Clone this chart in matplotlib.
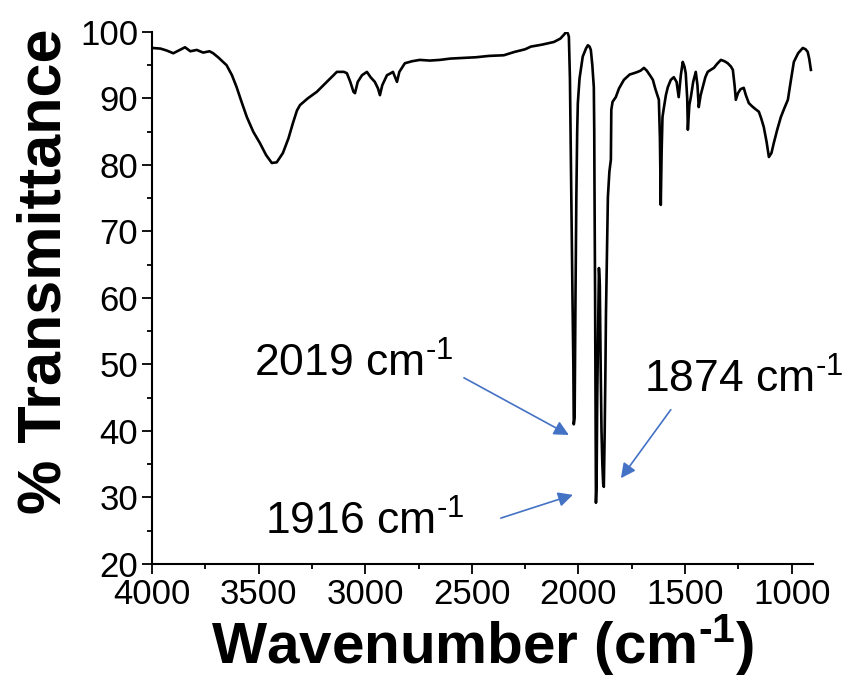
import matplotlib
matplotlib.use("Agg")
import matplotlib.pyplot as plt
from matplotlib.ticker import MultipleLocator

plt.rcParams["font.family"] = ["Liberation Sans", "DejaVu Sans"]
plt.rcParams["mathtext.fontset"] = "custom"
plt.rcParams["mathtext.rm"] = "Liberation Sans"
plt.rcParams["mathtext.it"] = "Liberation Sans"
plt.rcParams["mathtext.bf"] = "Liberation Sans:bold"

# IR spectrum (wavenumber in cm-1, % transmittance)
wavenumber = [
    4000, 3960, 3930, 3900, 3870, 3845, 3820, 3790, 3760, 3730, 3713, 3690,
    3670, 3650, 3625, 3603, 3580, 3555, 3525, 3494, 3465, 3438, 3415, 3386,
    3360, 3339, 3320, 3306, 3270, 3227, 3180, 3133, 3100, 3086, 3070, 3055,
    3048, 3035, 3015, 2992, 2975, 2955, 2940, 2931, 2920, 2898, 2880, 2870,
    2860, 2851, 2840, 2814, 2780, 2744, 2697, 2650, 2600, 2537, 2480, 2420,
    2350, 2300, 2250, 2223, 2170, 2115, 2085, 2065, 2059, 2050, 2045, 2040,
    2036, 2032, 2028, 2024, 2022, 2018, 2014, 2010, 2006, 2003, 1995, 1980,
    1965, 1956, 1948, 1942, 1935, 1928, 1926, 1925, 1922, 1920, 1918, 1915,
    1912, 1908, 1904, 1900, 1896, 1892, 1888, 1884, 1881, 1877, 1874, 1871,
    1866, 1862, 1855, 1848, 1846, 1840, 1825, 1810, 1787, 1760, 1740, 1722,
    1708, 1693, 1680, 1665, 1651, 1640, 1630, 1623, 1618, 1614, 1610, 1606,
    1600, 1590, 1581, 1567, 1553, 1540, 1530, 1520, 1511, 1503, 1497, 1490,
    1487, 1480, 1473, 1462, 1450, 1442, 1436, 1427, 1417, 1405, 1394, 1380,
    1365, 1350, 1332, 1315, 1300, 1285, 1276, 1268, 1262, 1252, 1240, 1225,
    1215, 1201, 1185, 1170, 1154, 1143, 1131, 1118, 1107, 1095, 1084, 1068,
    1051, 1035, 1018, 1005, 990, 970, 948, 935, 925, 918, 910,
]
transmittance = [
    97.6, 97.5, 97.2, 96.8, 97.3, 97.7, 97.1, 97.3, 96.9, 97.1, 96.8, 96.2,
    95.6, 95.0, 93.5, 91.7, 89.5, 87.2, 85.0, 83.3, 81.5, 80.3, 80.4, 81.8,
    84.0, 86.3, 88.2, 89.0, 90.0, 91.0, 92.5, 94.0, 94.0, 93.8, 92.5, 91.0,
    90.8, 92.5, 93.5, 94.0, 93.2, 92.5, 91.5, 90.5, 92.0, 93.5, 93.8, 94.0,
    93.2, 92.5, 94.0, 95.3, 95.6, 95.8, 95.7, 95.8, 96.0, 96.1, 96.2, 96.4,
    96.5, 97.0, 97.4, 97.8, 98.1, 98.5, 99.0, 99.7, 100.0, 99.8, 99.3, 93.0,
    81.8, 70.0, 60.0, 50.0, 41.0, 42.0, 60.0, 75.0, 85.0, 89.3, 93.0, 96.3,
    97.5, 98.0, 97.8, 97.3, 95.0, 91.7, 85.0, 77.7, 60.0, 45.0, 29.2, 32.0,
    45.0, 55.0, 64.5, 62.0, 50.0, 40.0, 35.0, 32.0, 31.6, 40.0, 48.0, 57.7,
    68.0, 75.2, 79.0, 80.8, 88.3, 89.5, 90.2, 91.5, 92.8, 93.6, 93.8, 94.0,
    94.2, 94.6, 94.2, 93.5, 92.8, 91.5, 90.5, 89.8, 84.0, 74.0, 82.0, 87.2,
    88.5, 90.5, 91.7, 92.8, 93.2, 92.5, 90.2, 93.5, 95.5, 94.8, 93.8, 90.0,
    85.3, 89.0, 90.2, 92.5, 94.0, 92.0, 88.7, 90.5, 91.7, 93.2, 94.0, 94.3,
    94.6, 95.2, 95.8, 95.6, 95.3, 94.8, 94.3, 92.0, 89.8, 90.8, 91.4, 91.6,
    90.5, 89.3, 88.8, 88.4, 88.0, 87.0, 85.7, 83.5, 81.2, 81.8, 83.3, 85.3,
    87.2, 88.5, 89.8, 92.5, 95.5, 96.8, 97.6, 97.4, 97.0, 96.0, 94.3,
]

# peak labels: text, text anchor (wn, %T), arrow tail, arrow head
peak_labels = ["2019 cm$^{\u20101}$", "1916 cm$^{\u20101}$", "1874 cm$^{\u20101}$"]
label_xy = [(3520, 48.1), (3470, 24.4), (1693, 45.7)]
arrow_from = [(2537, 48.0), (2364, 26.9), (1567, 43.2)]
arrow_to = [(2045, 39.4), (2026, 30.4), (1801, 32.9)]

fig = plt.figure(figsize=(8.62, 6.76), dpi=100)
ax = fig.add_axes([0.1763, 0.1657, 0.7669, 0.787])

ax.plot(wavenumber, transmittance, color="black", lw=1.9)

ax.set_xlim(4000, 900)
ax.set_ylim(20, 100)
ax.xaxis.set_major_locator(MultipleLocator(500))
ax.xaxis.set_minor_locator(MultipleLocator(250))
ax.yaxis.set_major_locator(MultipleLocator(10))
ax.yaxis.set_minor_locator(MultipleLocator(5))

for side in ["top", "right"]:
    ax.spines[side].set_visible(False)
for side in ["left", "bottom"]:
    ax.spines[side].set_linewidth(1.5)

ax.tick_params(which="major", direction="out", length=7, width=1.3,
               labelsize=25, pad=3)
ax.tick_params(which="minor", direction="out", length=3.6, width=1.3)

ax.set_xlabel("Wavenumber (cm$^{\\mathbf{\u20101}}$)", fontsize=42,
              fontweight="bold")
ax.set_ylabel("% Transmittance", fontsize=44, fontweight="bold")
ax.xaxis.label.set_va("baseline")
ax.yaxis.label.set_va("baseline")
ax.xaxis.set_label_coords(0.5, -0.186)
ax.yaxis.set_label_coords(-0.139, 0.551)

for text, xy, start, end in zip(peak_labels, label_xy, arrow_from, arrow_to):
    ax.text(xy[0], xy[1], text, fontsize=32, ha="left", va="baseline",
            clip_on=False)
    ax.annotate("", xy=end, xytext=start,
                arrowprops=dict(arrowstyle="-|>", color="#4472C4", lw=1.2,
                                mutation_scale=22, shrinkA=0, shrinkB=0))

fig.savefig("out.png", dpi=100)
